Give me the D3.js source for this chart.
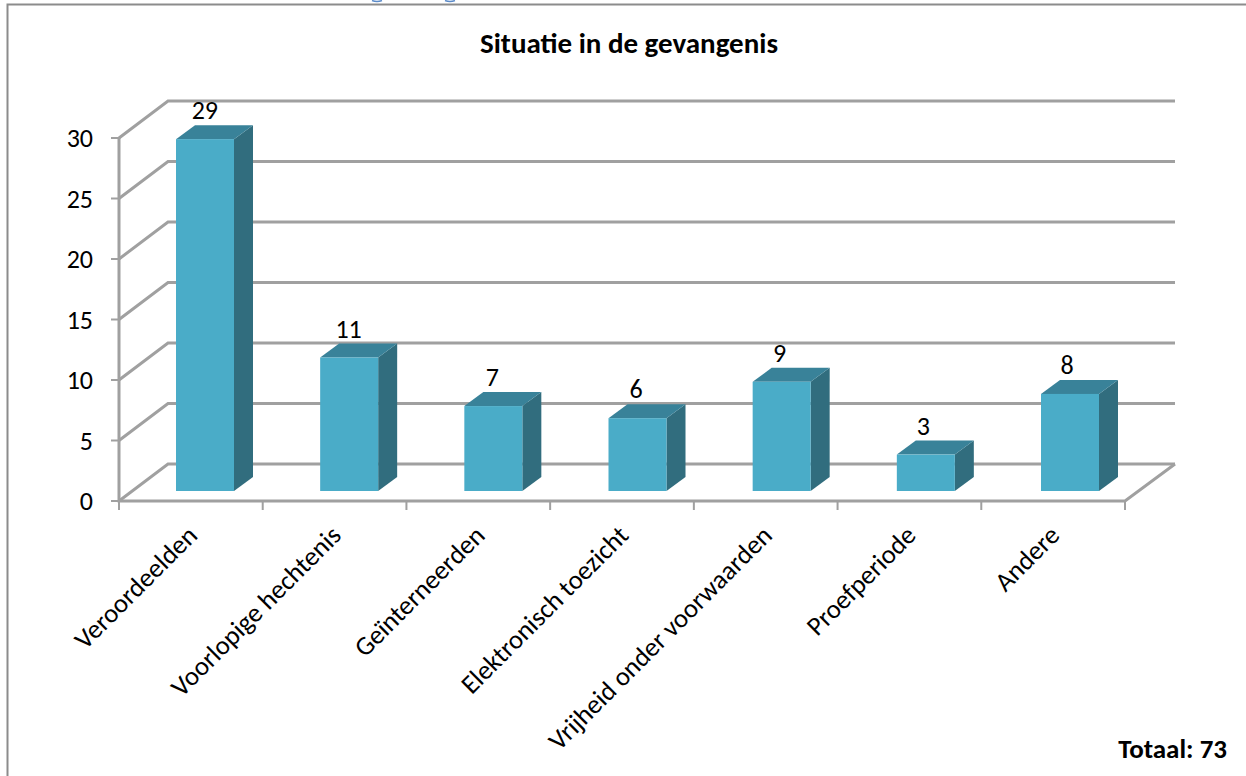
<!DOCTYPE html>
<html><head><meta charset="utf-8">
<script src="https://cdn.jsdelivr.net/npm/d3@7"></script>
<style>html,body{margin:0;padding:0;background:#fff;overflow:hidden}svg{display:block}text{font-family:Carlito,"Open Sans","Noto Sans",sans-serif}</style>
</head><body><div id="c"></div>
<script>
const categories=["Veroordeelden","Voorlopige hechtenis","Geïnterneerden","Elektronisch toezicht","Vrijheid onder voorwaarden","Proefperiode","Andere"];
const values=[29,11,7,6,9,3,8];
const yTicks=[0,5,10,15,20,25,30];
const titleText="Situatie in de gevangenis";
const totalText="Totaal: 73";

const W=1246,H=776;
const svg=d3.select("#c").append("svg").attr("width",W).attr("height",H);
svg.append("path").attr("fill","none").attr("stroke","#8c8c8c").attr("stroke-width",2).attr("d",`M7.5,${H}V4.5H${W}`);
svg.append("path").attr("fill","none").attr("stroke","#5b8bc9").attr("stroke-width",1.5).attr("d","M372,0.5Q377,2.5 382,0.5M445,0.5Q450,2.5 455,0.5");

const y=d3.scaleLinear().domain([0,30]).range([501,138]);
const barY=d3.scaleLinear().domain([0,30]).range([491,127]);
const x=d3.scaleBand().domain(categories).range([119,1125]);
const barLeft=d3.scalePoint().domain(categories).range([176,1041]);
const dx=49,dy=-37,gray="#a0a0a0";

const g=svg.append("g").attr("fill","none").attr("stroke",gray);
yTicks.forEach(t=>{
  g.append("path").attr("stroke-width",3).attr("d",`M119,${y(t)}L${119+dx},${y(t)+dy}L${1125+dx+1},${y(t)+dy}`);
  g.append("path").attr("stroke-width",2).attr("d",`M111,${y(t)}H119`);
});
g.append("path").attr("stroke-width",3).attr("d",`M119,${y(30)}V${y(0)}H1125L${1125+dx+1},${y(0)+dy}`);
[...categories.map(c=>x(c)),1125].forEach(px=>g.append("path").attr("stroke-width",2).attr("d",`M${px},${y(0)}v9`));

const barW=58,bx=19,by=-14;
values.forEach((v,i)=>{
  const c=categories[i],l=barLeft(c),r=l+barW,t=barY(v),b=barY(0);
  svg.append("path").attr("fill","#316d7e").attr("d",`M${r},${t}L${r+bx},${t+by}V${b+by}L${r},${b}Z`);
  svg.append("path").attr("fill","#398299").attr("d",`M${l},${t}L${l+bx},${t+by}H${r+bx}L${r},${t}Z`);
  svg.append("rect").attr("x",l).attr("y",t).attr("width",barW).attr("height",b-t).attr("fill","#4aacc8");
  svg.append("text").attr("x",x(c)+x.bandwidth()/2+14).attr("y",t-20).attr("text-anchor","middle").attr("font-size",26).attr("fill","#000").text(v);
});

yTicks.forEach(t=>svg.append("text").attr("x",93).attr("y",y(t)+9).attr("text-anchor","end").attr("font-size",26).attr("fill","#000").text(t));
categories.forEach(c=>{
  const px=x(c)+x.bandwidth()/2+8;
  svg.append("text").attr("transform",`translate(${px},537) rotate(-45)`).attr("text-anchor","end").attr("font-size",26.6).attr("fill","#000").text(c);
});
svg.append("text").attr("x",629).attr("y",53).attr("text-anchor","middle").attr("font-size",29).attr("font-weight","bold").attr("fill","#000").text(titleText);
svg.append("text").attr("x",1227).attr("y",758).attr("text-anchor","end").attr("font-size",27).attr("font-weight","bold").attr("fill","#000").text(totalText);
</script></body></html>
